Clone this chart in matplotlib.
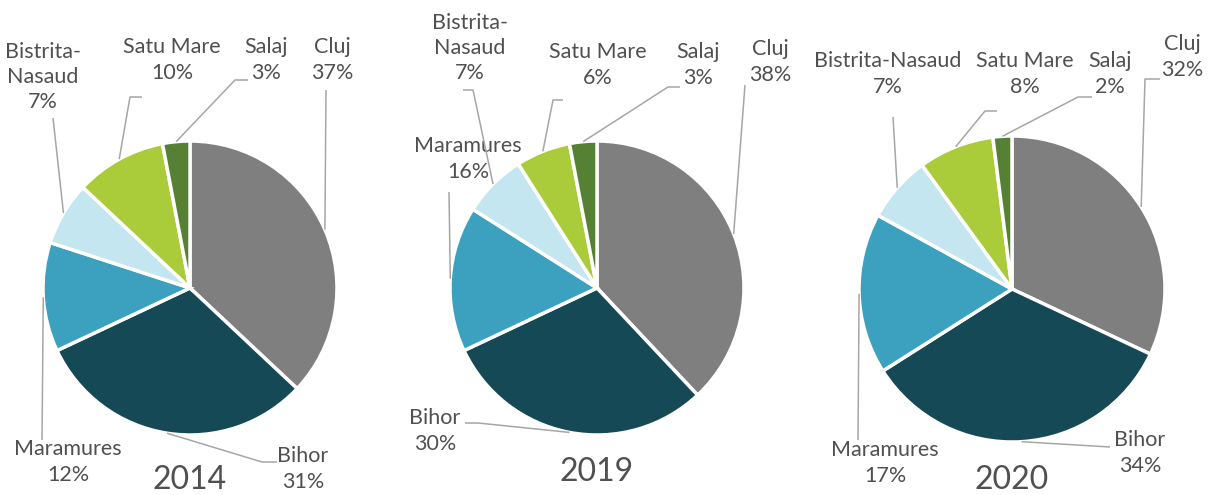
import numpy as np
import matplotlib.pyplot as plt

plt.rcParams['font.family'] = ['Lato', 'DejaVu Sans']

W, H = 1211, 495

counties = ["Cluj", "Bihor", "Maramures", "Bistrita-Nasaud", "Satu Mare", "Salaj"]
colors = ["#7f7f7f", "#154956", "#3ca1bf", "#c3e6f0", "#abcc3a", "#568135"]

years = ["2014", "2019", "2020"]
share_2014 = [37, 31, 12, 7, 10, 3]
share_2019 = [38, 30, 16, 7, 6, 3]
share_2020 = [32, 34, 17, 7, 8, 2]
shares = [share_2014, share_2019, share_2020]

# layout in pixel space (y measured from the top)
pies = [
    dict(center=(190, 288), r=147, year_xy=(190, 480), wrap=True,
         labels=[(332, 60), (303, 469), (68, 462), (43, 77), (172, 60), (266, 60)],
         leaders=[[(326, 90)], [(277, 462), (262, 462)], [(42, 440)],
                  [(53, 118)], [(142, 97), (130, 97)], [(248, 80), (235, 80)]]),
    dict(center=(597, 288), r=147, year_xy=(597, 472), wrap=True,
         labels=[(770, 62), (435, 431), (468, 159), (470, 48), (598, 65), (698, 65)],
         leaders=[[(745, 85)], [(465, 423), (478, 423)], [(449, 192)],
                  [(463, 90), (473, 90)], [(563, 100), (553, 100)], [(680, 87), (668, 87)]]),
    dict(center=(1012, 289), r=153, year_xy=(1012, 480), wrap=False,
         labels=[(1182, 57), (1140, 453), (885, 463), (888, 74), (1025, 74), (1110, 74)],
         leaders=[[(1160, 79), (1145, 79)], [(1110, 447)], [(858, 440)],
                  [(893, 117)], [(997, 111), (985, 111)], [(1092, 97), (1078, 97)]]),
]

text_color = "#505050"
line_color = "#a6a6a6"

fig = plt.figure(figsize=(W / 100, H / 100), dpi=100)
ax = fig.add_axes([0, 0, 1, 1])

for year, vals, lay in zip(years, shares, pies):
    cx, cy = lay["center"]
    r = lay["r"]
    ax.pie(vals, colors=colors, center=(cx, H - cy), radius=r,
           startangle=90, counterclock=False,
           wedgeprops=dict(edgecolor="white", linewidth=2.5))

    # leader lines end on the outer arc at each wedge's mid angle
    total = float(sum(vals))
    cum = np.cumsum([0] + list(vals))
    for i, name in enumerate(counties):
        mid = (cum[i] + vals[i] / 2) / total * 2 * np.pi
        ex, ey = cx + r * np.sin(mid), cy - r * np.cos(mid)
        pts = lay["leaders"][i] + [(ex, ey)]
        ax.plot([p[0] for p in pts], [H - p[1] for p in pts],
                color=line_color, lw=1.1, solid_capstyle="butt", zorder=3)

        label = name.replace("-", "-\n") if lay["wrap"] else name
        lx, ly = lay["labels"][i]
        ax.text(lx, H - ly, f"{label}\n{vals[i]}%", ha="center", va="center",
                fontsize=15.5, color=text_color, linespacing=1.32)

    yx, yy = lay["year_xy"]
    ax.text(yx, H - yy, year, ha="center", va="center", fontsize=23, color=text_color)

ax.set_xlim(0, W)
ax.set_ylim(0, H)
ax.set_aspect("equal")
ax.axis("off")

fig.savefig("out.png", dpi=100, facecolor="white")
